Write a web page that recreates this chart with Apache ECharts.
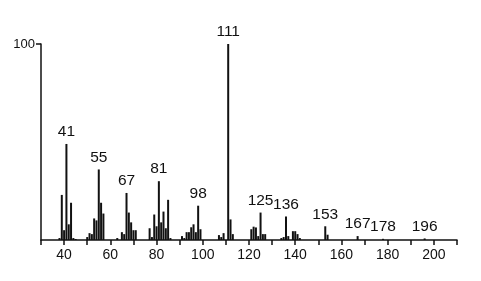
<!DOCTYPE html>
<html><head><meta charset="utf-8">
<script src="https://cdn.jsdelivr.net/npm/echarts@6/dist/echarts.min.js"></script>
<style>html,body{margin:0;padding:0;background:#fff}#c{width:481px;height:281px}</style>
</head><body><div id="c"></div>
<script>
var masses = [38,39,40,41,42,43,44,45,50,51,52,53,54,55,56,57,63,65,66,67,68,69,70,71,77,78,79,80,81,82,83,84,85,86,91,92,93,94,95,96,97,98,99,107,108,109,111,112,113,121,122,123,124,125,126,127,134,135,136,137,139,140,141,142,153,154,167,178,196];
var intensities = [1,23,5,49,8,19,1,0.5,1.5,3.5,3,11,10,36,19,13.5,1,4,3,24,14,9,5,5,6,1.5,13,7,30,9,14.5,6,20.5,1,2,1,4,4,6.5,8,4,17.5,5.5,2.5,1.5,3.5,100,10.5,3,5.5,6.8,6.4,2,14,3,3,1,1.5,12,2,4.5,4.5,3,1,7,2.7,2,0.6,0.8];
var labeledPeaks = [41,55,67,81,98,111,125,136,153,167,178,196];
var xTickLabels = [40,60,80,100,120,140,160,180,200];
var yTickLabels = [100];

var font = 'Arial, "Liberation Sans", Helvetica, sans-serif';
var data = masses.map(function(m,i){
  var item = {value:[m,intensities[i]]};
  if (labeledPeaks.indexOf(m) >= 0) {
    item.label = {show:true, position:'top', distance:4, offset:[2,0], formatter:String(m),
      color:'#111', fontSize:15.5, fontFamily:font};
  }
  return item;
});
var chart = echarts.init(document.getElementById('c'), null, {renderer:'canvas'});
chart.setOption({
  animation:false,
  grid:{left:41, right:24, top:44, bottom:41, containLabel:false},
  xAxis:{type:'value', min:30, max:210, interval:10,
    axisLine:{show:true, onZero:false, lineStyle:{color:'#111', width:1.5}},
    axisTick:{show:true, inside:false, length:5, lineStyle:{color:'#111', width:1.5}},
    axisLabel:{color:'#111', fontSize:14, fontFamily:font, margin:8,
      formatter:function(v){ return xTickLabels.indexOf(v)>=0 ? String(v) : ''; }},
    splitLine:{show:false}},
  yAxis:{type:'value', min:0, max:100, interval:100,
    axisLine:{show:true, lineStyle:{color:'#111', width:1.5}},
    axisTick:{show:true, length:5, customValues:yTickLabels, lineStyle:{color:'#111', width:1.5}},
    axisLabel:{color:'#111', fontSize:13, fontFamily:font, margin:6, customValues:yTickLabels,
      formatter:function(v){ return yTickLabels.indexOf(v)>=0 ? String(v) : ''; }},
    splitLine:{show:false}},
  series:[{type:'bar', data:data, barWidth:2, barGap:'-100%',
    itemStyle:{color:'#111'}, labelLayout:{hideOverlap:false}}]
});
</script></body></html>
